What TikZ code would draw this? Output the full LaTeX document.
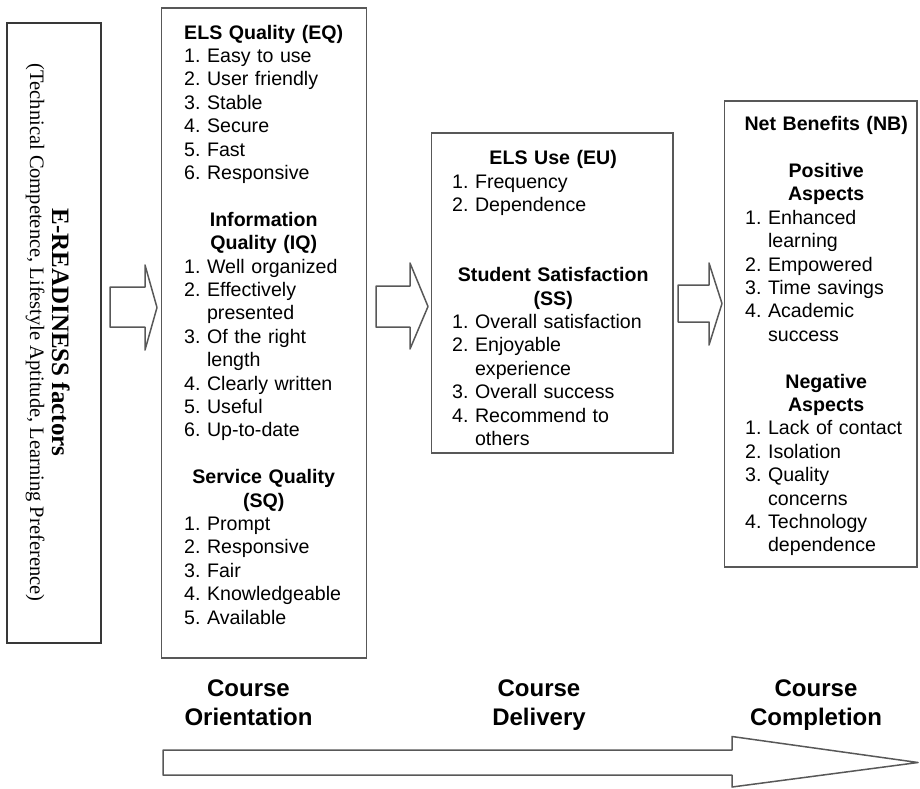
\documentclass[tikz,border=0pt]{standalone}
\usepackage{fontspec}
\setmainfont{Liberation Sans}
\newfontfamily\serifface{Liberation Serif}
\definecolor{boxgray}{HTML}{585858}
\definecolor{edgedark}{HTML}{383838}

% list typesetting: every line is its own box, so the pitch stays fixed
\newlength\numw
\newcommand\listfont{\fontsize{19.6pt}{23.4pt}\selectfont}
\newcommand\hd[1]{\par\noindent\hbox to\hsize{\hss\bfseries\vrule height15pt width0pt #1\hss}}
\newcommand\li[2]{\par\noindent\hbox{\vrule height15pt width0pt\makebox[\numw][l]{#1}#2}}
\newcommand\lc[1]{\par\noindent\hbox{\vrule height15pt width0pt\hspace*{\numw}#1}}
\newcommand\gapline{\par\noindent\hbox{\vrule height15pt width0pt}}

\begin{document}
\begin{tikzpicture}[x=1pt,y=-1pt,
  frame/.style={draw=boxgray, line width=1.6pt, inner sep=0pt, fill=white},
  readframe/.style={draw=edgedark, line width=2pt, inner sep=0pt, fill=white},
  listtext/.style={inner sep=0pt, anchor=north west, font=\listfont},
  blockarrow/.style={draw=boxgray, line width=1.5pt, fill=white, line join=round},
  stage/.style={inner sep=0pt, anchor=north, align=center,
    font=\fontsize{24pt}{29pt}\selectfont\bfseries}]
\useasboundingbox (0,0) rectangle (920,788);

% boxes
\node[readframe, minimum width=94pt, minimum height=620pt] (readbox) at (54,332.75) {};
\node[frame, minimum width=205pt, minimum height=650pt] (eqbox) at (264,333) {};
\node[frame, minimum width=241.5pt, minimum height=320pt] (eubox) at (552.25,293) {};
\node[frame, minimum width=192.5pt, minimum height=466pt] (nbbox) at (820.75,334) {};

% e-readiness label, read from top to bottom
\node[rotate=-90, anchor=base, inner sep=0pt,
  font=\serifface\fontsize{25pt}{30pt}\selectfont\bfseries] (readtitle) at (52,332.5) {E-READINESS factors};
\node[rotate=-90, anchor=base, inner sep=0pt,
  font=\serifface\fontsize{20.5pt}{24pt}\selectfont] (readsub) at (30,332.5)
  {(Technical Competence, Lifestyle Aptitude, Learning Preference)};

% quality dimensions
\node[listtext, text width=159pt] (eqtext) at (184,15.5) {%
\settowidth{\numw}{1.\ }%
\hd{ELS Quality (EQ)}
\li{1.}{Easy to use}
\li{2.}{User friendly}
\li{3.}{Stable}
\li{4.}{Secure}
\li{5.}{Fast}
\li{6.}{Responsive}
\gapline
\hd{Information}
\hd{Quality (IQ)}
\li{1.}{Well organized}
\li{2.}{Effectively}
\lc{presented}
\li{3.}{Of the right}
\lc{length}
\li{4.}{Clearly written}
\li{5.}{Useful}
\li{6.}{Up-to-date}
\gapline
\hd{Service Quality}
\hd{(SQ)}
\li{1.}{Prompt}
\li{2.}{Responsive}
\li{3.}{Fair}
\li{4.}{Knowledgeable}
\li{5.}{Available}};

% use and satisfaction
\node[listtext, text width=202pt] (eutext) at (452,141) {%
\settowidth{\numw}{1.\ }%
\hd{ELS Use (EU)}
\li{1.}{Frequency}
\li{2.}{Dependence}
\gapline
\gapline
\hd{Student Satisfaction}
\hd{(SS)}
\li{1.}{Overall satisfaction}
\li{2.}{Enjoyable}
\lc{experience}
\li{3.}{Overall success}
\li{4.}{Recommend to}
\lc{others}};

% net benefits
\node[listtext, text width=162pt] (nbtext) at (745,107) {%
\settowidth{\numw}{1.\ }%
\hd{Net Benefits (NB)}
\gapline
\hd{Positive}
\hd{Aspects}
\li{1.}{Enhanced}
\lc{learning}
\li{2.}{Empowered}
\li{3.}{Time savings}
\li{4.}{Academic}
\lc{success}
\gapline
\hd{Negative}
\hd{Aspects}
\li{1.}{Lack of contact}
\li{2.}{Isolation}
\li{3.}{Quality}
\lc{concerns}
\li{4.}{Technology}
\lc{dependence}};

% block arrows between the stages
\draw[blockarrow] (110,287) -- (145,287) -- (145,265) -- (157,307.5) -- (145,350) -- (145,327) -- (110,327) -- cycle;
\draw[blockarrow] (376,286) -- (410,286) -- (410,263) -- (428,306.5) -- (410,349) -- (410,327) -- (376,327) -- cycle;
\draw[blockarrow] (678,285) -- (709,285) -- (709,263) -- (722,303.5) -- (709,345) -- (709,322) -- (678,322) -- cycle;

% course phases
\node[stage] (orient) at (248.5,680) {Course\\Orientation};
\node[stage] (deliver) at (539,680) {Course\\Delivery};
\node[stage] (complete) at (816,680) {Course\\Completion};

% timeline arrow
\draw[blockarrow] (163,750) -- (732,750) -- (732,736.5) -- (918,762.5) -- (732,787) -- (732,775) -- (163,775) -- cycle;
\end{tikzpicture}
\end{document}
